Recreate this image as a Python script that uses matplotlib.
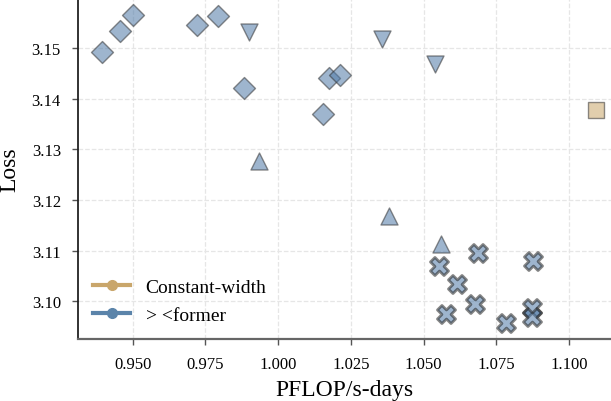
import matplotlib
matplotlib.use('Agg')
import matplotlib.pyplot as plt
from matplotlib.lines import Line2D

# data
dia_x = [0.9393, 0.9456, 0.9502, 0.9720, 0.9794, 0.9882, 1.0175, 1.0213, 1.0155]
dia_y = [3.1492, 3.1534, 3.1566, 3.1545, 3.1563, 3.1422, 3.1441, 3.1446, 3.1370]
down_x = [0.9901, 1.0357, 1.0540]
down_y = [3.1532, 3.1517, 3.1469]
up_x = [0.9935, 1.0382, 1.0559]
up_y = [3.1277, 3.1169, 3.1112]
cross_x = [1.0554, 1.0686, 1.0614, 1.0877, 1.0677, 1.0576, 1.0783, 1.0874, 1.0874]
cross_y = [3.1069, 3.1095, 3.1033, 3.1080, 3.0995, 3.0975, 3.0957, 3.0986, 3.0968]
sq_x = [1.1092]
sq_y = [3.1377]

labels = ['Constant-width', '> <former']
xticks = [0.950, 0.975, 1.000, 1.025, 1.050, 1.075, 1.100]
yticks = [3.10, 3.11, 3.12, 3.13, 3.14, 3.15]

blue = '#4e79a7'
tan = '#c9a66b'

plt.rcParams['font.family'] = ['Liberation Serif', 'DejaVu Serif']

fig = plt.figure(figsize=(6.11, 4.02), dpi=100)
ax = fig.add_axes([0.127, 0.154, 0.873, 0.846])

kw = dict(facecolor=blue, alpha=0.55, edgecolors='#333333', linewidths=1.0, zorder=3)
ax.scatter(dia_x, dia_y, marker='D', s=125, **kw)
ax.scatter(down_x, down_y, marker='v', s=150, **kw)
ax.scatter(up_x, up_y, marker='^', s=150, **kw)
ax.scatter(cross_x, cross_y, marker='X', s=170, facecolor=blue, alpha=0.55,
           edgecolors='#222222', linewidths=2.0, zorder=3)
ax.scatter(sq_x, sq_y, marker='s', s=135, facecolor=tan, alpha=0.55,
           edgecolors='#333333', linewidths=1.0, zorder=3)

ax.set_xlim(0.931, 1.1145)
ax.set_ylim(3.0925, 3.1597)
ax.set_xticks(xticks)
ax.set_xticklabels(['%.3f' % v for v in xticks])
ax.set_yticks(yticks)
ax.set_yticklabels(['%.2f' % v for v in yticks])
ax.tick_params(labelsize=12, color='#555555', length=4, width=1, pad=8)

ax.grid(True, linestyle='--', color='#e6e6e6', linewidth=0.9)
ax.set_axisbelow(True)
for s in ['top', 'right']:
    ax.spines[s].set_visible(False)
ax.spines['left'].set_color('#222222')
ax.spines['bottom'].set_color('#666666')
ax.spines['left'].set_linewidth(1.3)
ax.spines['bottom'].set_linewidth(1.6)

ax.set_xlabel('PFLOP/s-days', fontsize=17, labelpad=5)
ax.set_ylabel('Loss', fontsize=17, labelpad=8)

handles = [Line2D([], [], color=tan, lw=3, marker='o', markersize=7),
           Line2D([], [], color='#5b84aa', lw=3, marker='o', markersize=7)]
ax.legend(handles, labels, loc='lower left', frameon=False, fontsize=14,
          handlelength=1.9, borderaxespad=0.4, labelspacing=0.5)

fig.savefig('out.png', dpi=100)
